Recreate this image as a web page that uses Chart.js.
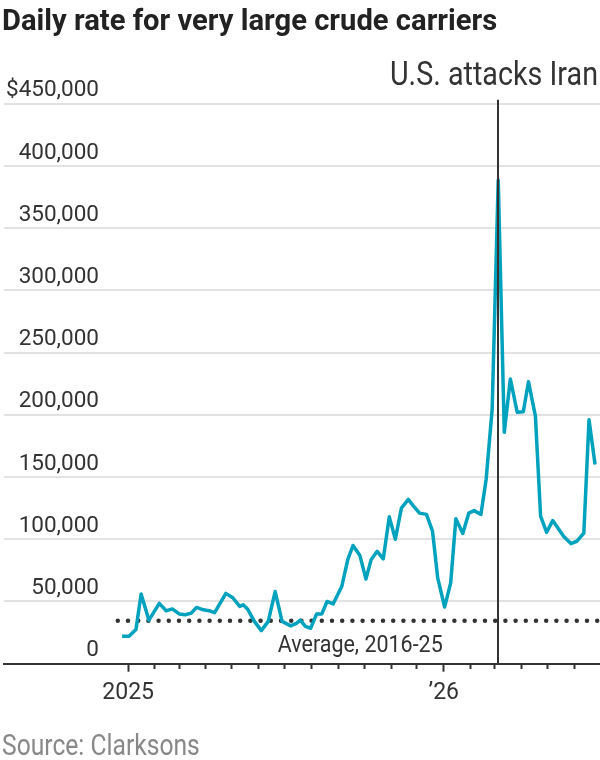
<!DOCTYPE html>
<html>
<head>
<meta charset="utf-8">
<script src="https://cdn.jsdelivr.net/npm/chart.js@4.4.1/dist/chart.umd.min.js"></script>
<style>
  body { margin: 0; background: #fff; }
  .wrap { position: relative; width: 600px; height: 760px; font-family: Roboto, sans-serif; }
  .wrap h2, .wrap .source { position: absolute; left: 2px; margin: 0; line-height: 1; white-space: nowrap; transform-origin: 0 0; }
  .wrap h2 { top: 6px; font-size: 29px; font-weight: bold; color: #222; }
  .wrap .source { top: 731px; font-size: 29px; font-weight: normal; color: #888; }
  .chart { position: absolute; left: 0; top: 0; width: 600px; height: 760px; }
</style>
</head>
<body>
<div class="wrap">
  <div class="chart"><canvas id="vlccChart"></canvas></div>
  <h2 id="title">Daily rate for very large crude carriers</h2>
  <p class="source" id="source">Source: Clarksons</p>
</div>
<script>
// days counted from Jan 1 2025
const days = [-7, 1, 9, 15, 24, 36, 44, 51, 59, 66, 73, 79, 87, 95, 100, 113, 121, 129, 133, 138,
  146, 154, 162, 170, 178, 188, 195, 199, 205, 211, 218, 224, 230, 237, 247, 254, 260, 268, 275, 281,
  288, 295, 302, 309, 316, 324, 330, 337, 345, 352, 358, 366, 373, 379, 387, 394, 400, 408, 414, 421,
  428, 435, 442, 450, 457, 463, 471, 477, 484, 491, 504, 512, 519, 527, 533, 540];
const rates = [22000, 22000, 27500, 56000, 35000, 48500, 42500, 44000, 40000, 39300, 40600, 45200, 43300, 42300, 41000, 56500, 53000, 46000, 47300, 44000,
  34000, 26600, 34000, 58000, 34000, 30400, 32600, 35000, 30000, 28500, 40000, 40000, 50000, 48000, 62000, 83600, 95000, 87000, 68000, 83600,
  90300, 84200, 118000, 100000, 125000, 132000, 126600, 121000, 120000, 106500, 69000, 45500, 65000, 116500, 104600, 121000, 123000, 120000, 148000, 204600,
  388700, 186000, 228800, 202000, 202400, 226600, 199000, 118500, 105600, 115000, 102000, 96500, 98400, 105000, 196000, 160000];

const monthTicks = [0, 31, 59, 90, 120, 151, 181, 212, 243, 273, 304, 334, 365, 396, 424, 455, 485, 516];
const yearTicks = [0, 365];
const yearLabels = ['2025', '\u201926'];
const yTicks = [0, 50000, 100000, 150000, 200000, 250000, 300000, 350000, 400000, 450000];

const averageRate = 34500;
const averageSpan = [-12, 546];
const eventDay = 428;
const eventLabel = 'U.S. attacks Iran';
const averageLabel = 'Average, 2016-25';

const FONT = 'Roboto, sans-serif';
const INK = '#333';

// the original type is a narrow face, so squeeze the regular one to the same width
function squeeze(el, width) {
  el.style.transform = 'scaleX(' + (width / el.scrollWidth) + ')';
}
squeeze(document.getElementById('title'), 495);
squeeze(document.getElementById('source'), 198);

function narrowText(ctx, text, x, y, width) {
  const w = ctx.measureText(text).width;
  ctx.save();
  ctx.translate(x, y);
  ctx.scale(width / w, 1);
  ctx.textAlign = 'right';
  ctx.fillText(text, 0, 0);
  ctx.restore();
}

const annotations = {
  id: 'annotations',
  afterDatasetsDraw(chart) {
    const { ctx, chartArea, scales } = chart;
    const x = Math.round(scales.x.getPixelForValue(eventDay));
    ctx.save();
    ctx.strokeStyle = INK;
    ctx.lineWidth = 2;
    ctx.beginPath();
    ctx.moveTo(x, chartArea.top - 4);
    ctx.lineTo(x, chartArea.bottom);
    ctx.stroke();

    ctx.fillStyle = INK;
    ctx.textBaseline = 'alphabetic';
    ctx.font = '33px ' + FONT;
    narrowText(ctx, eventLabel, chartArea.right - 2, 85, 208);

    ctx.font = '23px ' + FONT;
    const avgY = scales.y.getPixelForValue(averageRate);
    narrowText(ctx, averageLabel, scales.x.getPixelForValue(yearTicks[1]) - 1, avgY + 31, 165);
    ctx.restore();
  }
};

new Chart(document.getElementById('vlccChart'), {
  type: 'line',
  data: {
    datasets: [
      {
        data: days.map((d, i) => ({ x: d, y: rates[i] })),
        borderColor: '#00a2bd',
        borderWidth: 3.5,
        borderJoinStyle: 'round',
        pointRadius: 0,
        tension: 0,
      },
      {
        data: averageSpan.map(d => ({ x: d, y: averageRate })),
        borderColor: INK,
        borderWidth: 4.5,
        borderDash: [0, 10.2],
        borderCapStyle: 'round',
        pointRadius: 0,
      },
    ],
  },
  options: {
    responsive: true,
    maintainAspectRatio: false,
    animation: false,
    layout: { padding: { top: 103.7, bottom: 36.3, left: 0, right: 0 } },
    plugins: { legend: { display: false }, tooltip: { enabled: false } },
    scales: {
      x: {
        type: 'linear',
        min: -143.6,
        max: 545.7,
        afterBuildTicks: scale => { scale.ticks = monthTicks.map(v => ({ value: v })); },
        afterFit: scale => { scale.height = 60; },
        border: { display: true, color: INK, width: 2 },
        grid: {
          display: true,
          drawOnChartArea: false,
          drawTicks: true,
          tickLength: 8,
          tickWidth: 2,
          tickColor: INK,
          tickBorderDash: ctx => (yearTicks.includes(ctx.tick && ctx.tick.value) ? [] : [4, 40]),
        },
        ticks: {
          autoSkip: false,
          maxRotation: 0,
          padding: 8,
          color: INK,
          font: { family: FONT, size: 23 },
          callback: value => {
            const i = yearTicks.indexOf(value);
            return i >= 0 ? yearLabels[i] : '';
          },
        },
      },
      y: {
        min: 0,
        max: 450000,
        afterBuildTicks: scale => { scale.ticks = yTicks.map(v => ({ value: v })); },
        border: { display: false },
        grid: {
          drawTicks: false,
          lineWidth: 2,
          color: ctx => (ctx.tick && ctx.tick.value === 0 ? 'rgba(0,0,0,0)' : '#e2e2e2'),
        },
        ticks: {
          mirror: true,
          crossAlign: 'far',
          padding: 2,
          labelOffset: -13,
          color: INK,
          font: { family: FONT, size: 22.5 },
          callback: value => (value === 450000 ? '$' : '') + value.toLocaleString('en-US'),
        },
      },
    },
  },
  plugins: [annotations],
});
</script>
</body>
</html>
